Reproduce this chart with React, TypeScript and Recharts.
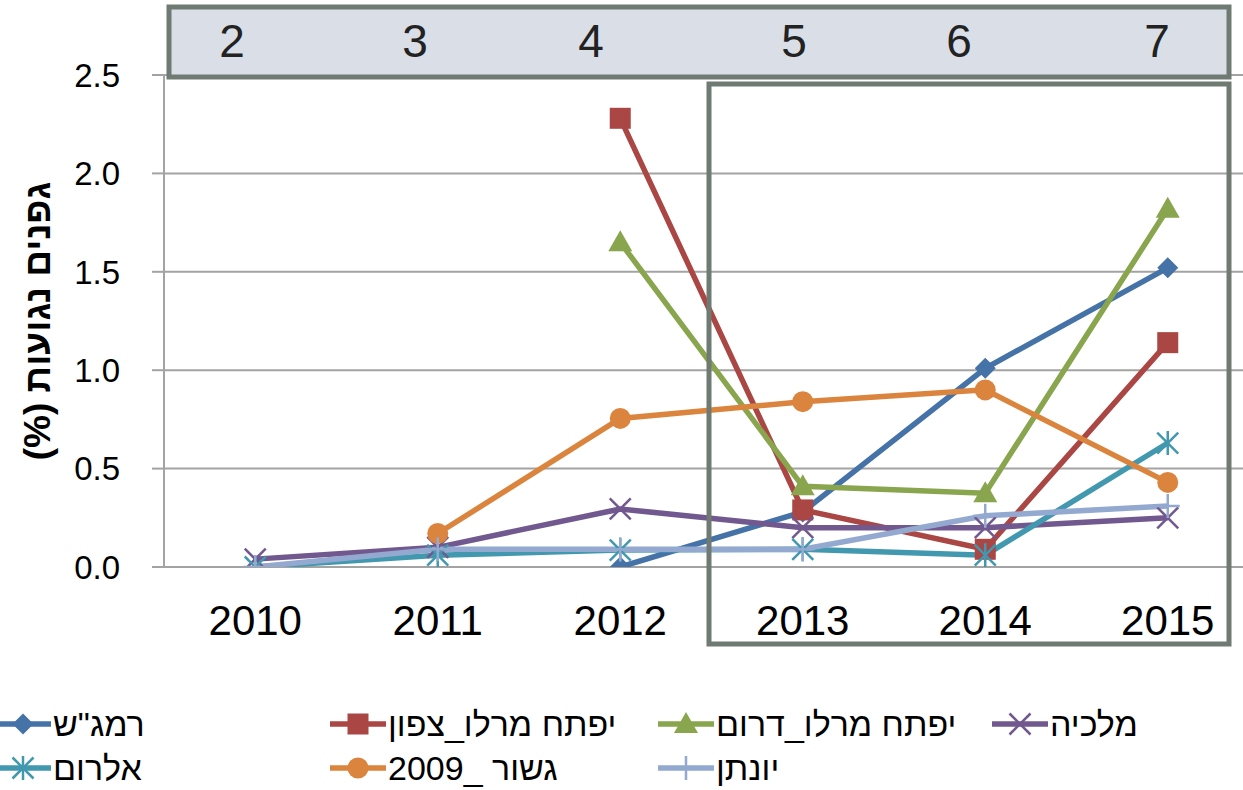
import React from 'react';
import { LineChart, Line, XAxis, YAxis, CartesianGrid } from 'recharts';

const years = ['2010', '2011', '2012', '2013', '2014', '2015'];
const seriesNames = ['רמג"ש', 'יפתח מרלו_צפון', 'יפתח מרלו_דרום', 'מלכיה', 'אלרום', 'גשור _2009', 'יונתן'];
const ramgash = [null, null, 0, 0.28, 1.01, 1.52];
const yiftachNorth = [null, null, 2.28, 0.29, 0.09, 1.14];
const yiftachSouth = [null, null, 1.65, 0.41, 0.375, 1.82];
const malkia = [0.04, 0.1, 0.295, 0.2, 0.2, 0.25];
const alrom = [0, 0.06, 0.086, 0.09, 0.06, 0.63];
const geshur = [null, 0.17, 0.755, 0.84, 0.9, 0.43];
const yonatan = [0, 0.09, 0.09, 0.09, 0.26, 0.31];
const yTicks = [0, 0.5, 1, 1.5, 2, 2.5];
const stageLabels = ['2', '3', '4', '5', '6', '7'];
const yAxisTitle = 'גפנים נגועות (%)';

// styling / layout constants
const colors = ['#4572A7', '#AA4643', '#89A54E', '#71588F', '#4198AF', '#DB843D', '#93A9CF'];
const markerKinds = ['diamond', 'square', 'triangle', 'x', 'star', 'circle', 'plus'];
const stageLabelX = [232, 415, 591, 794, 959, 1157];
const legendColX = [-5, 330, 658, 992];
const legendRowY = [724, 768];
const FONT = '"Liberation Sans", Arial, sans-serif';
const GRID = '#A3A3A3';
const BOX = '#6E7A72';

const seriesValues = [ramgash, yiftachNorth, yiftachSouth, malkia, alrom, geshur, yonatan];
const series = seriesNames.map((name, i) => ({
  key: 's' + i,
  name,
  color: colors[i],
  marker: markerKinds[i],
  values: seriesValues[i],
}));

const data = years.map((year, i) => {
  const row: any = { year };
  series.forEach((s) => {
    row[s.key] = s.values[i];
  });
  return row;
});

const edgeTicks = years.map((_, i) => i).concat(years.length);

function Marker({ kind, cx, cy, color }: { kind: string; cx: number; cy: number; color: string }) {
  const s = 10.5;
  switch (kind) {
    case 'diamond':
      return <polygon points={`${cx},${cy - s} ${cx + s},${cy} ${cx},${cy + s} ${cx - s},${cy}`} fill={color} />;
    case 'square':
      return <rect x={cx - s} y={cy - s} width={2 * s} height={2 * s} fill={color} />;
    case 'triangle':
      return <polygon points={`${cx},${cy - 12} ${cx + 12},${cy + 9} ${cx - 12},${cy + 9}`} fill={color} />;
    case 'x':
      return (
        <g stroke={color} strokeWidth={2.5}>
          <line x1={cx - s} y1={cy - s} x2={cx + s} y2={cy + s} />
          <line x1={cx - s} y1={cy + s} x2={cx + s} y2={cy - s} />
        </g>
      );
    case 'star':
      return (
        <g stroke={color} strokeWidth={2.5}>
          <line x1={cx - s} y1={cy - s} x2={cx + s} y2={cy + s} />
          <line x1={cx - s} y1={cy + s} x2={cx + s} y2={cy - s} />
          <line x1={cx} y1={cy - 12} x2={cx} y2={cy + 12} />
        </g>
      );
    case 'circle':
      return <circle cx={cx} cy={cy} r={s} fill={color} />;
    case 'plus':
      return (
        <g stroke={color} strokeWidth={2.5}>
          <line x1={cx} y1={cy - 12} x2={cx} y2={cy + 12} />
          <line x1={cx - 12} y1={cy} x2={cx + 12} y2={cy} />
        </g>
      );
    default:
      return null;
  }
}

const makeDot = (kind: string, color: string) => (props: any) => {
  const { cx, cy, value, index } = props;
  if (value == null || cy == null || Number.isNaN(cy)) return <g key={`d${index}`} />;
  return (
    <g key={`d${index}`}>
      <Marker kind={kind} cx={cx} cy={cy} color={color} />
    </g>
  );
};

function LegendItem({ s }: { s: (typeof series)[number] }) {
  return (
    <div style={{ display: 'flex', alignItems: 'center', whiteSpace: 'nowrap' }}>
      <svg width={56} height={30} style={{ display: 'block', flex: 'none' }}>
        <line x1={0} y1={15} x2={56} y2={15} stroke={s.color} strokeWidth={5.5} />
        <Marker kind={s.marker} cx={28} cy={15} color={s.color} />
      </svg>
      <span dir="rtl" style={{ fontSize: 34, lineHeight: '34px', marginLeft: 2, color: '#000' }}>
        {s.name}
      </span>
    </div>
  );
}

export default function App() {
  return (
    <div
      style={{
        position: 'absolute',
        left: 0,
        top: 0,
        width: 1243,
        height: 790,
        overflow: 'hidden',
        background: '#fff',
        fontFamily: FONT,
      }}
    >
      <LineChart
        width={1262}
        height={790}
        data={data}
        margin={{ top: 75, right: 3, bottom: 221, left: 0 }}
      >
        <CartesianGrid horizontal vertical={false} stroke={GRID} strokeWidth={2} />
        <XAxis
          xAxisId="edges"
          type="number"
          domain={[0, years.length]}
          ticks={edgeTicks}
          allowDataOverflow
          interval={0}
          tick={false}
          tickSize={11}
          axisLine={false}
          tickLine={{ stroke: GRID, strokeWidth: 2 }}
          height={1}
        />
        <XAxis
          dataKey="year"
          scale="band"
          interval={0}
          tickLine={false}
          axisLine={false}
          tickSize={0}
          tickMargin={38}
          height={1}
          tick={{ fill: '#000', fontSize: 42 }}
        />
        <YAxis
          domain={[0, 2.5]}
          ticks={yTicks}
          allowDataOverflow
          interval={0}
          width={164}
          tickSize={12}
          tickMargin={32}
          tickFormatter={(v: number) => v.toFixed(1)}
          axisLine={{ stroke: GRID, strokeWidth: 2 }}
          tickLine={{ stroke: GRID, strokeWidth: 2 }}
          tick={{ fill: '#000', fontSize: 33 }}
        />
        {series.map((s) => (
          <Line
            key={s.key}
            dataKey={s.key}
            name={s.name}
            type="linear"
            stroke={s.color}
            strokeWidth={5.5}
            dot={makeDot(s.marker, s.color)}
            activeDot={false}
            connectNulls={false}
            isAnimationActive={false}
          />
        ))}
      </LineChart>

      <svg
        width={1243}
        height={790}
        style={{ position: 'absolute', left: 0, top: 0, pointerEvents: 'none' }}
      >
        <rect x={169} y={7} width={1060} height={70} fill="#D9DEE7" stroke={BOX} strokeWidth={5} />
        {stageLabels.map((t, i) => (
          <text
            key={t}
            x={stageLabelX[i]}
            y={57}
            textAnchor="middle"
            fontSize={46}
            fill="#222"
            fontFamily={FONT}
          >
            {t}
          </text>
        ))}
        <rect x={709} y={84} width={520} height={560} fill="none" stroke={BOX} strokeWidth={5} />
        <text
          transform="translate(37,321) rotate(-90)"
          direction="rtl"
          textAnchor="middle"
          dominantBaseline="central"
          fontSize={37}
          fontWeight="bold"
          fill="#000"
          fontFamily={FONT}
        >
          {yAxisTitle}
        </text>
      </svg>

      {series.map((s, i) => {
        const col = i < 4 ? i : i - 4;
        const row = i < 4 ? 0 : 1;
        return (
          <div
            key={s.key}
            style={{ position: 'absolute', left: legendColX[col], top: legendRowY[row] - 17 }}
          >
            <LegendItem s={s} />
          </div>
        );
      })}
    </div>
  );
}
